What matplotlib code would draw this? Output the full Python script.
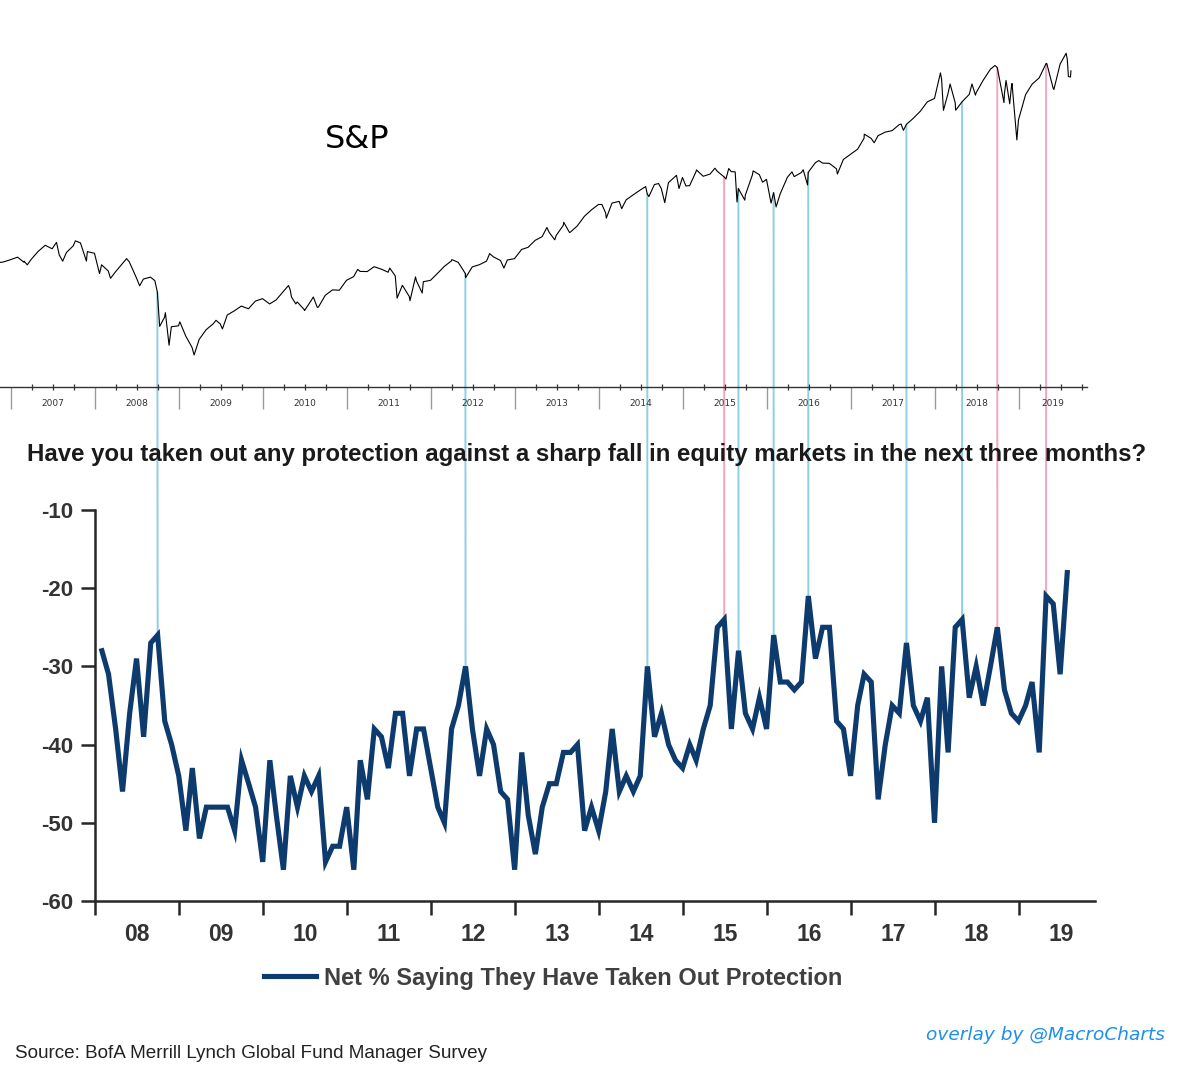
import numpy as np
import pandas as pd
import matplotlib
matplotlib.use("Agg")
import matplotlib.pyplot as plt
from matplotlib.patches import ConnectionPatch
import matplotlib.transforms as mtransforms

# ---------------- data ----------------
# BofA FMS: net % saying they have taken out protection, monthly Jan 2008 - Jul 2019
survey_values = [
    -28, -31, -38, -46, -36, -29, -39, -27, -26, -37, -40, -44,   # 2008
    -51, -43, -52, -48, -48, -48, -48, -51, -42, -45, -48, -55,   # 2009
    -42, -49, -56, -44, -48, -44, -46, -44, -55, -53, -53, -48,   # 2010
    -56, -42, -47, -38, -39, -43, -36, -36, -44, -38, -38, -43,   # 2011
    -48, -50, -38, -35, -30, -38, -44, -38, -40, -46, -47, -56,   # 2012
    -41, -49, -54, -48, -45, -45, -41, -41, -40, -51, -48, -51,   # 2013
    -46, -38, -46, -44, -46, -44, -30, -39, -36, -40, -42, -43,   # 2014
    -40, -42, -38, -35, -25, -24, -38, -28, -36, -38, -34, -38,   # 2015
    -26, -32, -32, -33, -32, -21, -29, -25, -25, -37, -38, -44,   # 2016
    -35, -31, -32, -47, -40, -35, -36, -27, -35, -37, -34, -50,   # 2017
    -30, -41, -25, -24, -34, -30, -35, -30, -25, -33, -36, -37,   # 2018
    -35, -32, -41, -21, -22, -31, -18,                            # 2019
]
survey_dates = pd.date_range("2008-01-31", periods=len(survey_values), freq="ME")

# S&P 500 month-end closes, Nov 2006 - Jul 2019
sp_monthly_close = [
    1400.6, 1418.3,
    1438.2, 1406.8, 1420.9, 1482.4, 1530.6, 1503.4, 1455.3, 1474.0, 1526.8, 1549.4, 1481.1, 1468.4,
    1378.6, 1330.6, 1322.7, 1385.6, 1400.4, 1280.0, 1267.4, 1282.8, 1166.4, 968.8, 896.2, 903.3,
    825.9, 735.1, 797.9, 872.8, 919.1, 919.3, 987.5, 1020.6, 1057.1, 1036.2, 1095.6, 1115.1,
    1073.9, 1104.5, 1169.4, 1186.7, 1089.4, 1030.7, 1101.6, 1049.3, 1141.2, 1183.3, 1180.6, 1257.6,
    1286.1, 1327.2, 1325.8, 1363.6, 1345.2, 1320.6, 1292.3, 1218.9, 1131.4, 1253.3, 1247.0, 1257.6,
    1312.4, 1365.7, 1408.5, 1397.9, 1310.3, 1362.2, 1379.3, 1406.6, 1440.7, 1412.2, 1416.2, 1426.2,
    1498.1, 1514.7, 1569.2, 1597.6, 1630.7, 1606.3, 1685.7, 1633.0, 1681.6, 1756.5, 1805.8, 1848.4,
    1782.6, 1859.5, 1872.3, 1884.0, 1923.6, 1960.2, 1930.7, 2003.4, 1972.3, 2018.1, 2067.6, 2058.9,
    1995.0, 2104.5, 2067.9, 2085.5, 2107.4, 2063.1, 2103.8, 1972.2, 1920.0, 2079.4, 2080.4, 2043.9,
    1940.2, 1932.2, 2059.7, 2065.3, 2097.0, 2098.9, 2173.6, 2171.0, 2168.3, 2126.2, 2198.8, 2238.8,
    2278.9, 2363.6, 2362.7, 2384.2, 2411.8, 2423.4, 2470.3, 2471.7, 2519.4, 2575.3, 2647.6, 2673.6,
    2823.8, 2713.8, 2640.9, 2648.1, 2705.3, 2718.4, 2816.3, 2901.5, 2914.0, 2711.7, 2760.2, 2506.9,
    2704.1, 2784.5, 2834.4, 2945.8, 2752.1, 2941.8, 2980.4,
]
sp_monthly_dates = pd.date_range("2006-11-30", periods=len(sp_monthly_close), freq="ME")

# S&P 500 intra-month closes at notable swings
sp_extra_dates = [
    "2006-11-15", "2007-02-27", "2007-03-14", "2007-07-19", "2007-08-15", "2007-10-09", "2007-11-26",
    "2008-01-22", "2008-03-10", "2008-05-19", "2008-07-15", "2008-09-19", "2008-10-10", "2008-11-04",
    "2008-11-20", "2009-01-06", "2009-03-09", "2009-06-12", "2009-07-10",
    "2010-04-23", "2010-05-06", "2010-05-25", "2010-07-02", "2010-08-09", "2010-08-26",
    "2011-02-18", "2011-07-07", "2011-08-08", "2011-10-03", "2011-10-27", "2011-11-25",
    "2012-04-02", "2012-06-01", "2012-09-14", "2012-11-15",
    "2013-05-21", "2013-06-24", "2013-08-02", "2013-08-27",
    "2014-01-15", "2014-02-03", "2014-04-11", "2014-07-24", "2014-08-07", "2014-09-18", "2014-10-15",
    "2014-12-05", "2014-12-16", "2015-01-15", "2015-03-02", "2015-05-21", "2015-07-08", "2015-07-20",
    "2015-08-17", "2015-08-25", "2015-09-28", "2015-11-03", "2015-12-14",
    "2016-01-20", "2016-02-11", "2016-04-20", "2016-06-08", "2016-06-27", "2016-08-15", "2016-11-04",
    "2017-03-01", "2017-04-13", "2017-08-08", "2017-08-18",
    "2018-01-26", "2018-02-08", "2018-03-09", "2018-04-02", "2018-06-12", "2018-06-27", "2018-09-20",
    "2018-10-29", "2018-11-07", "2018-11-23", "2018-12-03", "2018-12-24",
    "2019-05-03", "2019-06-03", "2019-07-26", "2019-08-05", "2019-08-14", "2019-08-16",
]
sp_extra_values = [
    1396.6, 1399.0, 1377.9, 1553.1, 1406.7, 1565.2, 1407.2,
    1310.5, 1273.4, 1426.6, 1214.9, 1255.1, 899.2, 1005.8,
    752.4, 934.7, 676.5, 946.2, 879.1,
    1217.3, 1128.2, 1074.0, 1022.6, 1127.8, 1047.2,
    1343.0, 1353.2, 1119.5, 1099.2, 1284.6, 1158.7,
    1419.0, 1278.0, 1465.8, 1353.3,
    1669.2, 1573.1, 1709.7, 1630.5,
    1848.4, 1741.9, 1815.7, 1988.0, 1909.6, 2011.4, 1862.5,
    2075.4, 1972.7, 1992.7, 2117.4, 2130.8, 2046.7, 2128.3,
    2102.4, 1867.6, 1881.8, 2109.8, 2021.9,
    1859.3, 1829.1, 2102.4, 2119.1, 2000.5, 2190.2, 2085.2,
    2396.0, 2329.0, 2474.9, 2425.6,
    2872.9, 2581.0, 2786.6, 2581.9, 2786.9, 2699.6, 2930.8,
    2641.3, 2813.9, 2632.6, 2790.4, 2351.1,
    2945.6, 2744.5, 3025.9, 2844.7, 2840.6, 2888.7,
]

# months where protection spiked (connector lines)
event_months = ["2008-09", "2012-05", "2014-07", "2015-06", "2015-08", "2016-01",
                "2016-06", "2017-08", "2018-04", "2018-09", "2019-04"]
event_kinds = ["low", "low", "low", "high", "low", "low",
               "low", "low", "low", "high", "high"]

year_labels_top = [str(y) for y in range(2007, 2020)]
year_labels_bottom = ["08", "09", "10", "11", "12", "13", "14", "15", "16", "17", "18", "19"]
y_ticks = [-10, -20, -30, -40, -50, -60]


def frac_year(d):
    d = pd.Timestamp(d)
    s = pd.Timestamp(year=d.year, month=1, day=1)
    e = pd.Timestamp(year=d.year + 1, month=1, day=1)
    return d.year + (d - s) / (e - s)


# ---------------- figure ----------------
W, H = 1200, 1073
fig = plt.figure(figsize=(W / 100, H / 100), dpi=100)
fig.patch.set_facecolor("white")

NAVY = "#0d3b6e"
BLUE = "#8ecfe3"
PINK = "#f2a5bf"
PX_PER_YEAR = 84.0
X2008 = 94.7


def px_to_year(px):
    return 2008 + (px - X2008) / PX_PER_YEAR


def fig_rect(l, t, r, b):
    return [l / W, 1 - b / H, (r - l) / W, (b - t) / H]


# ---- top S&P axes ----
ax1 = fig.add_axes(fig_rect(0, 30, 1087, 387))
ax1.patch.set_visible(False)
sp = pd.Series(sp_monthly_close, index=sp_monthly_dates)
sp = pd.concat([sp, pd.Series(sp_extra_values, index=pd.to_datetime(sp_extra_dates))]).sort_index()
sp_x = np.array([frac_year(d) for d in sp.index])
sp_y = sp.values
ax1.plot(sp_x, sp_y, color="black", lw=0.8)
ax1.set_xlim(px_to_year(0), px_to_year(1087))
ax1.set_ylim(427, 3207)
for s in ["top", "right", "left"]:
    ax1.spines[s].set_visible(False)
ax1.spines["bottom"].set_color("#333333")
ax1.spines["bottom"].set_linewidth(1.0)
ax1.set_yticks([])
years_top = list(range(2007, 2020))
ax1.set_xticks(years_top)
ax1.set_xticklabels([])
ax1.tick_params(axis="x", which="major", length=16, width=1, color="#9a9a9a", direction="out")
quarters = [y + q / 4 for y in range(2006, 2020) for q in (1, 2, 3)]
quarters = [q for q in quarters if px_to_year(0) < q < px_to_year(1087)]
ax1.set_xticks(quarters, minor=True)
ax1.tick_params(axis="x", which="minor", length=4, width=0.9, color="#333333", direction="inout")
trans1 = mtransforms.blended_transform_factory(ax1.transData, ax1.transAxes)
xr = px_to_year(1087)
for y, lab in zip(years_top, year_labels_top):
    cx = y + 0.5 if y + 1 <= xr else (y + xr) / 2
    ax1.text(cx, -17 / 357, lab, transform=trans1, ha="center", va="center",
             fontsize=6.5, color="#333333", family="DejaVu Sans")

fig.text(357 / W, 1 - 140 / H, "S&P", fontsize=23, ha="center", va="center",
         color="black", family="DejaVu Sans")

# ---- bottom survey axes ----
ax2 = fig.add_axes(fig_rect(95, 510, 1095, 901))
ax2.patch.set_visible(False)
sv_x = np.array([frac_year(d) for d in survey_dates])
line, = ax2.plot(sv_x, survey_values, color=NAVY, lw=3.7, solid_joinstyle="miter",
                 clip_on=False, zorder=3)
ax2.set_xlim(px_to_year(95), px_to_year(1095))
ax2.set_ylim(-60, -10)
for s in ["top", "right"]:
    ax2.spines[s].set_visible(False)
for s in ["left", "bottom"]:
    ax2.spines[s].set_color("#262626")
    ax2.spines[s].set_linewidth(1.8)
ax2.set_yticks(y_ticks)
ax2.set_yticklabels([str(v) for v in y_ticks])
ax2.tick_params(axis="y", length=10, width=1.8, color="#262626", pad=6,
                labelsize=16, labelcolor="#333333")
for t in ax2.get_yticklabels():
    t.set_fontweight("bold")
    t.set_family("Liberation Sans")
years_bot = list(range(2008, 2020))
ax2.set_xticks(years_bot)
ax2.set_xticklabels([])
ax2.tick_params(axis="x", which="major", length=10, width=1.8, color="#262626")
ax2.set_xticks([y + 0.5 for y in years_bot], minor=True)
ax2.set_xticklabels(year_labels_bottom, minor=True)
ax2.tick_params(axis="x", which="minor", length=0, pad=16, labelsize=16.5, labelcolor="#333333")
for t in ax2.get_xticklabels(minor=True):
    t.set_fontweight("bold")
    t.set_family("Liberation Sans")

# ---- connector lines ----
for m, kind in zip(event_months, event_kinds):
    d = pd.Period(m, freq="M").to_timestamp(how="end").normalize()
    idx = list(survey_dates.normalize()).index(d)
    xv = sv_x[idx]
    yv = survey_values[idx]
    spv = np.interp(xv, sp_x, sp_y)
    con = ConnectionPatch(xyA=(xv, yv), coordsA=ax2.transData,
                          xyB=(xv, spv), coordsB=ax1.transData,
                          color=BLUE if kind == "low" else PINK, lw=1.4, zorder=-1)
    fig.add_artist(con)

# ---- texts ----
fig.text(587 / W, 1 - 454 / H,
         "Have you taken out any protection against a sharp fall in equity markets in the next three months?",
         ha="center", va="center", fontsize=17.3, fontweight="bold", color="#1a1a1a",
         family="Liberation Sans")

leg = fig.legend([line], ["Net % Saying They Have Taken Out Protection"],
                 loc="center left", bbox_to_anchor=(264 / W, 1 - 978 / H),
                 frameon=False, borderpad=0, borderaxespad=0, handlelength=2.2,
                 handletextpad=0.35, prop={"family": "Liberation Sans", "weight": "bold", "size": 17},
                 labelcolor="#404040")

fig.text(15 / W, 1 - 1053 / H, "Source: BofA Merrill Lynch Global Fund Manager Survey",
         ha="left", va="center", fontsize=13.6, color="#222222", family="Liberation Sans")
fig.text(1165 / W, 1 - 1035 / H, "overlay by @MacroCharts", ha="right", va="center",
         fontsize=13.3, style="italic", color="#1c8ff0", family="DejaVu Sans")

fig.savefig("out.png", dpi=100, facecolor="white")
